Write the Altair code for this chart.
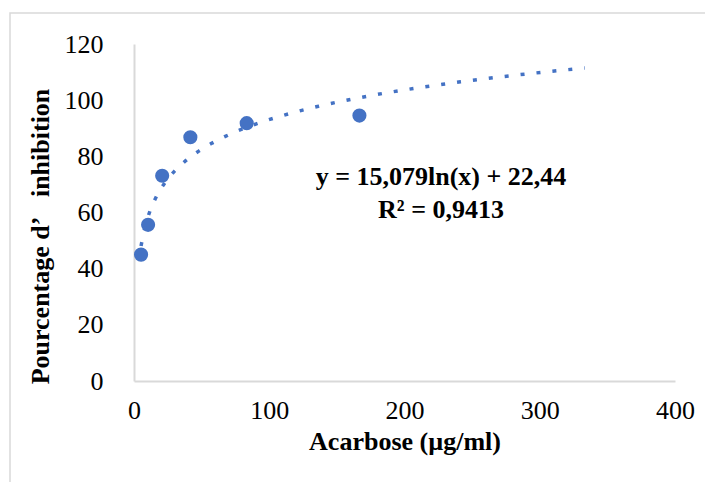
import altair as alt
import pandas as pd

# Data
concentration = [5.21, 10.42, 20.83, 41.67, 83.33, 166.67]
inhibition = [45.0, 55.6, 73.1, 86.8, 91.8, 94.5]
trend_extent = [5.21, 333.3]

x_ticks = [0, 100, 200, 300, 400]
y_ticks = [0, 20, 40, 60, 80, 100, 120]

eq_lines = ["y = 15,079ln(x) + 22,44", "R² = 0,9413"]
eq_x = [227, 227]
eq_y = [72.6, 60.9]

BLUE = "#4472C4"
FONT = "Liberation Serif"

df = pd.DataFrame({"conc": concentration, "inh": inhibition})
eq_df = pd.DataFrame({"label": eq_lines, "x": eq_x, "y": eq_y})

x_scale = alt.Scale(domain=[0, 400], nice=False, zero=True)
y_scale = alt.Scale(domain=[0, 120], nice=False)

x_axis = alt.Axis(
    values=x_ticks, title="Acarbose (µg/ml)", grid=False, ticks=False, tickSize=0,
    labelPadding=16, labelFlush=False, labelOverlap=False,
    labelFont=FONT, labelFontSize=26, labelColor="#000000",
    titleFont=FONT, titleFontSize=26, titleFontWeight="bold", titleColor="#000000",
    titleY=60, titleBaseline="middle",
    domainColor="#d9d9d9", domainWidth=2,
)
y_axis = alt.Axis(
    values=y_ticks, title="Pourcentage d’\u00a0\u00a0 inhibition", grid=False, ticks=False, tickSize=0,
    labelPadding=31, labelFlush=False, labelOverlap=False,
    labelFont=FONT, labelFontSize=26, labelColor="#000000",
    titleFont=FONT, titleFontSize=26, titleFontWeight="bold", titleColor="#000000",
    titleX=-94, titleY=192, titleBaseline="middle", titleAlign="center", titleAngle=-90,
    domainColor="#d9d9d9", domainWidth=2,
)

border = alt.Chart(pd.DataFrame({"a": [0]})).mark_rect(
    fill=None, stroke="#d9d9d9", strokeWidth=1.5
).encode(
    x=alt.value(-124), x2=alt.value(700), y=alt.value(-31), y2=alt.value(520)
)

points = alt.Chart(df).mark_circle(size=200, color=BLUE, opacity=1).encode(
    x=alt.X("conc:Q", scale=x_scale, axis=x_axis),
    y=alt.Y("inh:Q", scale=y_scale, axis=y_axis),
)

trend = alt.Chart(df).transform_regression(
    "conc", "inh", method="log", extent=trend_extent
).mark_line(
    color=BLUE, strokeWidth=3.5, strokeDash=[4, 12], strokeCap="butt"
).encode(
    x=alt.X("conc:Q", scale=x_scale),
    y=alt.Y("inh:Q", scale=y_scale),
)

eq_text = alt.Chart(eq_df).mark_text(
    font=FONT, fontSize=26, fontWeight="bold", color="#000000",
    align="center", baseline="middle"
).encode(
    x=alt.X("x:Q", scale=x_scale),
    y=alt.Y("y:Q", scale=y_scale),
    text="label:N",
)

chart = alt.layer(border, points, trend, eq_text).properties(
    width=541, height=337,
    autosize=alt.AutoSizeParams(type="none"),
    padding={"left": 134, "top": 44, "right": 30, "bottom": 101},
    background="#ffffff",
).configure_view(stroke=None)

chart.save("out.html", embed_options={"renderer": "svg", "actions": False})
